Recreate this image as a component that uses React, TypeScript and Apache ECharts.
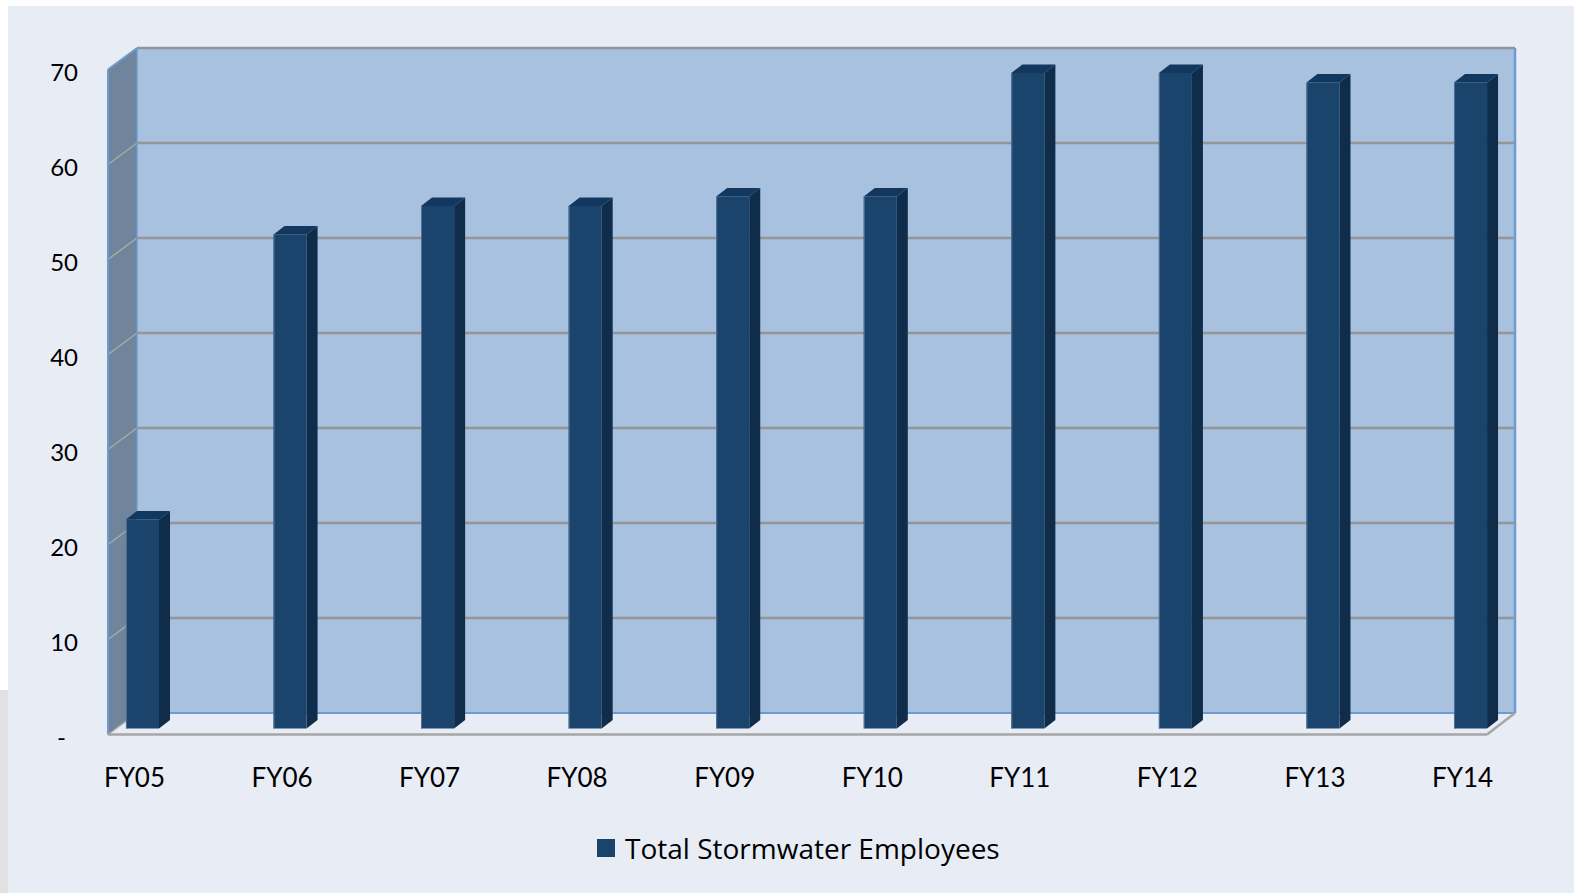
import React, { useEffect, useRef } from "react";
import * as echarts from "echarts";

const categories = ["FY05", "FY06", "FY07", "FY08", "FY09", "FY10", "FY11", "FY12", "FY13", "FY14"];
const employees = [22, 52, 55, 55, 56, 56, 69, 69, 68, 68];
const yTicks = [0, 10, 20, 30, 40, 50, 60, 70];
const seriesName = "Total Stormwater Employees";

const FONT = "Lato, 'Open Sans', sans-serif";
const LEGEND_FONT = "'Open Sans', Lato, sans-serif";

function buildOption() {
  const yMax = yTicks[yTicks.length - 1];

  const renderWalls = (params: any, api: any) => {
    const cs = params.coordSys;
    const yb = (v: number) => api.coord([0, v])[1];
    const front = (v: number) => yb(v) + 6;
    const back = (v: number) => yb(v) - 15.5;
    const xFL = cs.x + 39.3;
    const xBL = xFL + 29;
    const xBR = cs.x + cs.width - 29.3;
    const xFR = xBR - 28;
    const f0 = front(0);
    const b0 = back(0);
    const fTop = front(yMax);
    const bTop = back(yMax);
    const children: any[] = [];
    children.push({
      type: "polygon",
      shape: { points: [[xFL, f0], [xBL, b0], [xBR, b0], [xFR, f0]] },
      style: { fill: "#e8ecf5" },
    });
    children.push({
      type: "polygon",
      shape: { points: [[xFL, fTop], [xBL, bTop], [xBL, b0], [xFL, f0]] },
      style: { fill: "#70849b" },
    });
    children.push({
      type: "rect",
      shape: { x: xBL, y: bTop, width: xBR - xBL, height: b0 - bTop },
      style: { fill: "#a7c1df" },
    });
    yTicks.forEach((v) => {
      if (v === 0) return;
      children.push({
        type: "line",
        shape: { x1: xBL, y1: back(v), x2: xBR, y2: back(v) },
        style: { stroke: "#959595", lineWidth: 2.5 },
      });
      if (v !== yMax) {
        children.push({
          type: "line",
          shape: { x1: xFL, y1: front(v), x2: xBL, y2: back(v) },
          style: { stroke: "#a9a9a9", lineWidth: 1.5 },
        });
      }
    });
    const blue = "#6b9bd1";
    children.push(
      { type: "line", shape: { x1: xBL, y1: b0, x2: xBR, y2: b0 }, style: { stroke: blue, lineWidth: 2 } },
      { type: "line", shape: { x1: xBR, y1: bTop, x2: xBR, y2: b0 }, style: { stroke: blue, lineWidth: 2.5 } },
      { type: "line", shape: { x1: xFL, y1: fTop, x2: xFL, y2: f0 }, style: { stroke: blue, lineWidth: 2 } },
      { type: "line", shape: { x1: xBL, y1: bTop, x2: xBL, y2: b0 }, style: { stroke: blue, lineWidth: 1.5 } },
      { type: "line", shape: { x1: xFL, y1: fTop, x2: xBL, y2: bTop }, style: { stroke: blue, lineWidth: 2 } },
      { type: "line", shape: { x1: xFL, y1: f0, x2: xFR, y2: f0 }, style: { stroke: "#a6a6a6", lineWidth: 2.5 } },
      { type: "line", shape: { x1: xFR, y1: f0, x2: xBR, y2: b0 }, style: { stroke: "#a6a6a6", lineWidth: 2.5 } },
      { type: "line", shape: { x1: xFL, y1: f0, x2: xBL, y2: b0 }, style: { stroke: "#a6a6a6", lineWidth: 1.5 } }
    );
    return { type: "group", children };
  };

  const renderBar = (params: any, api: any) => {
    const idx = api.value(0);
    const val = api.value(1);
    const [cx, yTop] = api.coord([idx, val]);
    const [, yBot] = api.coord([idx, 0]);
    const bw = api.size([1, 0])[0] * 0.224;
    const xl = cx - bw / 2;
    const xr = cx + bw / 2;
    const dx = 11;
    const dy = -8.5;
    return {
      type: "group",
      children: [
        {
          type: "polygon",
          shape: { points: [[xr, yTop], [xr + dx, yTop + dy], [xr + dx, yBot + dy], [xr, yBot]] },
          style: { fill: "#0f2c4b" },
        },
        {
          type: "polygon",
          shape: { points: [[xl, yTop], [xl + dx, yTop + dy], [xr + dx, yTop + dy], [xr, yTop]] },
          style: { fill: "#123860" },
        },
        {
          type: "rect",
          shape: { x: xl, y: yTop, width: bw, height: yBot - yTop },
          style: { fill: "#1b446d" },
        },
        {
          type: "line",
          shape: { x1: xl + 0.5, y1: yTop, x2: xl + 0.5, y2: yBot },
          style: { stroke: "#4f739b", lineWidth: 1 },
        },
      ],
    };
  };

  return {
    animation: false,
    backgroundColor: "#ffffff",
    graphic: [
      { type: "rect", silent: true, shape: { x: 8, y: 6, width: 1566, height: 887 }, style: { fill: "#e8ecf5" } },
      { type: "rect", silent: true, shape: { x: 0, y: 690, width: 8, height: 203 }, style: { fill: "#e1e1e1" } },
    ],
    grid: {
      left: 68.7,
      top: 63.5,
      width: 1475.6,
      height: 665,
      containLabel: false,
      outerBoundsMode: "none",
    },
    legend: {
      data: [{ name: seriesName, icon: "rect", itemStyle: { color: "#1b446d" } }],
      left: 597,
      top: 834,
      padding: 0,
      itemWidth: 18,
      itemHeight: 18,
      textStyle: { fontFamily: LEGEND_FONT, fontSize: 28, color: "#000", padding: [0, 0, 0, 5] },
    },
    xAxis: {
      type: "category",
      data: categories,
      axisLine: { show: false },
      axisTick: { show: false },
      splitLine: { show: false },
      axisLabel: {
        fontFamily: FONT,
        fontSize: 26,
        color: "#000",
        margin: 35,
        padding: [0, 16, 0, 0],
        interval: 0,
      },
    },
    yAxis: {
      type: "value",
      min: 0,
      max: yMax,
      interval: 10,
      offset: -9.3,
      axisLine: { show: false },
      axisTick: { show: false },
      splitLine: { show: false },
      axisLabel: {
        fontFamily: FONT,
        fontSize: 24,
        color: "#000",
        margin: 0,
        padding: [16, 0, 0, 0],
        formatter: (v: number) => (v === 0 ? "{d|-}" : String(v)),
        rich: { d: { fontFamily: FONT, fontSize: 24, color: "#000", padding: [0, 12, 0, 0] } },
      },
    },
    series: [
      {
        type: "custom",
        name: "walls",
        silent: true,
        z: 1,
        renderItem: renderWalls,
        data: [[0, 0]],
        encode: { x: 0, y: 1 },
      },
      {
        type: "custom",
        name: seriesName,
        z: 3,
        itemStyle: { color: "#1b446d" },
        renderItem: renderBar,
        data: employees.map((v, i) => [i, v]),
        encode: { x: 0, y: 1 },
      },
    ],
  };
}

export default function App() {
  const ref = useRef<HTMLDivElement>(null);
  useEffect(() => {
    document.body.style.margin = "0";
    document.body.style.overflow = "hidden";
    const chart = echarts.init(ref.current!, null, { renderer: "svg" });
    chart.setOption(buildOption() as any);
    return () => chart.dispose();
  }, []);
  return <div ref={ref} style={{ width: 1574, height: 893 }} />;
}
